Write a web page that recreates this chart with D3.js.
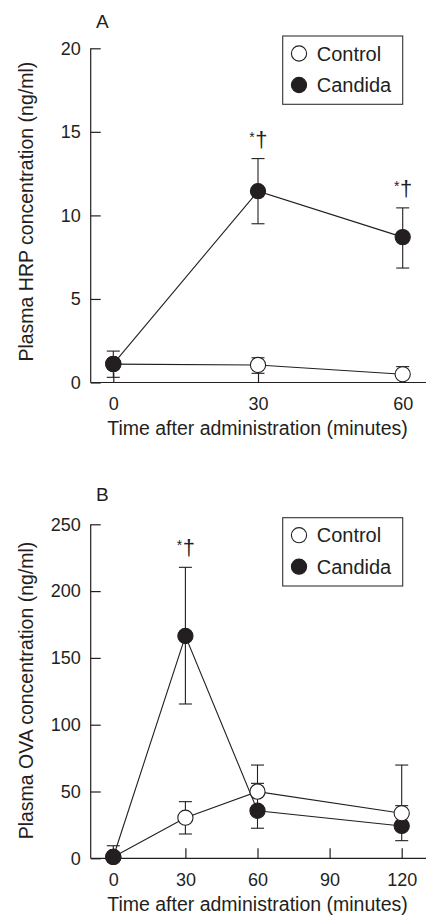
<!DOCTYPE html>
<html>
<head>
<meta charset="utf-8">
<script src="https://cdn.jsdelivr.net/npm/d3@7"></script>
<style>
  body { margin: 0; background: #fff; }
  svg { display: block; font-family: "Liberation Sans", Arial, sans-serif; }
</style>
</head>
<body>
<div id="chart"></div>
<script>
// Series names (legend order)
const seriesNames = ["Control", "Candida"];

// Panel A: plasma HRP (ng/ml)
const hrpTimes = [0, 30, 60];
const hrpControl = [1.1, 1.05, 0.49];
const hrpControlLow = [null, 0.55, null];
const hrpControlHigh = [null, 1.48, 0.95];
const hrpCandida = [1.12, 11.45, 8.7];
const hrpCandidaLow = [0.31, 9.5, 6.85];
const hrpCandidaHigh = [1.88, 13.4, 10.45];
const hrpStars = [false, true, true];

// Panel B: plasma OVA (ng/ml)
const ovaTimes = [0, 30, 60, 120];
const ovaTicks = [0, 30, 60, 90, 120];
const ovaControl = [1, 30.4, 49.9, 33.7];
const ovaControlLow = [null, 18.2, null, null];
const ovaControlHigh = [null, 42.4, 69.8, 69.8];
const ovaCandida = [1, 166.4, 35.6, 24.2];
const ovaCandidaLow = [null, 115.5, 22.5, 13.2];
const ovaCandidaHigh = [9.4, 217.8, 56.1, 39.4];
const ovaStars = [false, true, false, false];

const ink = "#231f20";

const svg = d3.select("#chart").append("svg")
    .attr("width", 426)
    .attr("height", 917);

function drawPanel(p) {
    const g = svg.append("g");

    const x = d3.scaleLinear().domain(p.xDomain).range([113.3, p.xRight]);
    const y = d3.scaleLinear().domain(p.yDomain).range([p.yBottom, p.yTop]);

    // axes drawn as an L, x axis runs on to the right edge
    g.append("line")
        .attr("x1", 90.7).attr("x2", 90.7)
        .attr("y1", y(p.yDomain[1])).attr("y2", y(0))
        .attr("stroke", ink).attr("stroke-width", 1.2);
    g.append("line")
        .attr("x1", 90.7).attr("x2", 426)
        .attr("y1", y(0)).attr("y2", y(0))
        .attr("stroke", ink).attr("stroke-width", 1.2);

    // inward ticks
    const yAxis = g.append("g")
        .attr("transform", "translate(90.7,0)")
        .call(d3.axisLeft(y).tickValues(p.yTicks).tickSize(-10).tickPadding(10));
    const xAxis = g.append("g")
        .attr("transform", `translate(0,${y(0)})`)
        .call(d3.axisBottom(x).tickValues(p.xTicks).tickSize(-10).tickPadding(15));
    [yAxis, xAxis].forEach(a => {
        a.select(".domain").remove();
        a.selectAll(".tick line").attr("stroke", ink).attr("stroke-width", 1.2);
        a.selectAll(".tick text")
            .attr("fill", ink)
            .style("font-family", "Liberation Sans, Arial, sans-serif")
            .style("font-size", "18px");
    });

    // axis titles and panel letter
    g.append("text")
        .attr("x", 257.5).attr("y", p.xTitleY)
        .attr("text-anchor", "middle")
        .attr("fill", ink).style("font-size", "19.5px")
        .text("Time after administration (minutes)");
    g.append("text")
        .attr("transform", `translate(33,${p.yTitleC}) rotate(-90)`)
        .attr("text-anchor", "middle")
        .attr("fill", ink).style("font-size", "19.5px")
        .text(p.yTitle);
    g.append("text")
        .attr("x", 96).attr("y", p.letterY)
        .attr("fill", ink).style("font-size", "19px")
        .text(p.letter);

    const series = [
        { name: "Control", vals: p.control, low: p.controlLow, high: p.controlHigh, fill: "#fff" },
        { name: "Candida", vals: p.candida, low: p.candidaLow, high: p.candidaHigh, fill: ink }
    ];

    const line = d3.line().x(d => x(d.t)).y(d => y(d.v));

    series.forEach(s => {
        const pts = p.times.map((t, i) => ({ t, v: s.vals[i] }));
        g.append("path")
            .datum(pts)
            .attr("d", line)
            .attr("fill", "none")
            .attr("stroke", ink)
            .attr("stroke-width", 1.1);
    });

    // error bars
    series.forEach(s => {
        p.times.forEach((t, i) => {
            [s.low[i], s.high[i]].forEach(e => {
                if (e == null) return;
                g.append("line")
                    .attr("x1", x(t)).attr("x2", x(t))
                    .attr("y1", y(s.vals[i])).attr("y2", y(e))
                    .attr("stroke", ink).attr("stroke-width", 1.1);
                g.append("line")
                    .attr("x1", x(t) - 6.5).attr("x2", x(t) + 6.5)
                    .attr("y1", y(e)).attr("y2", y(e))
                    .attr("stroke", ink).attr("stroke-width", 1.1);
            });
        });
    });

    // markers: control sits on top, except at baseline where Candida covers it
    const marks = [];
    series.forEach((s, si) => {
        p.times.forEach((t, i) => marks.push({ t, v: s.vals[i], fill: s.fill, z: (si === 0) !== (t === 0) ? 1 : 0 }));
    });
    marks.sort((a, b) => a.z - b.z);
    g.selectAll(".mark")
        .data(marks)
        .enter()
        .append("circle")
        .attr("cx", d => x(d.t))
        .attr("cy", d => y(d.v))
        .attr("r", 7.6)
        .attr("fill", d => d.fill)
        .attr("stroke", ink)
        .attr("stroke-width", 1.1);

    // significance marks above the upper error caps
    p.times.forEach((t, i) => {
        if (!p.stars[i]) return;
        const capY = y(p.candidaHigh[i]);
        g.append("text")
            .attr("x", x(t) + 3.4).attr("y", capY - 12)
            .attr("text-anchor", "middle")
            .attr("fill", ink).style("font-size", "22px")
            .text("†");
        g.append("text")
            .attr("x", x(t) - 6).attr("y", capY - 17)
            .attr("text-anchor", "middle")
            .attr("fill", ink).style("font-size", "14px")
            .text("*");
    });

    // legend
    const lg = g.append("g").attr("transform", `translate(282.7,${p.legendTop})`);
    lg.append("rect")
        .attr("width", 120).attr("height", 68.3)
        .attr("fill", "#fff")
        .attr("stroke", "#333").attr("stroke-width", 1.1);
    seriesNames.forEach((name, i) => {
        const cy = 17.5 + i * 31.5;
        lg.append("circle")
            .attr("cx", 16.3).attr("cy", cy).attr("r", 7.6)
            .attr("fill", series[i].fill)
            .attr("stroke", ink).attr("stroke-width", 1.1);
        lg.append("text")
            .attr("x", 34).attr("y", cy + 7)
            .attr("fill", ink).style("font-size", "20px")
            .text(name);
    });
}

drawPanel({
    letter: "A", letterY: 28.3,
    times: hrpTimes, xDomain: [0, 60], xRight: 402.7, xTicks: hrpTimes,
    yDomain: [0, 20], yTop: 48.3, yBottom: 382.5, yTicks: [0, 5, 10, 15, 20],
    control: hrpControl, controlLow: hrpControlLow, controlHigh: hrpControlHigh,
    candida: hrpCandida, candidaLow: hrpCandidaLow, candidaHigh: hrpCandidaHigh,
    stars: hrpStars,
    yTitle: "Plasma HRP concentration (ng/ml)", yTitleC: 211.7, xTitleY: 435,
    legendTop: 36
});

drawPanel({
    letter: "B", letterY: 501,
    times: ovaTimes, xDomain: [0, 120], xRight: 401.7, xTicks: ovaTicks,
    yDomain: [0, 250], yTop: 524.3, yBottom: 858.3, yTicks: [0, 50, 100, 150, 200, 250],
    control: ovaControl, controlLow: ovaControlLow, controlHigh: ovaControlHigh,
    candida: ovaCandida, candidaLow: ovaCandidaLow, candidaHigh: ovaCandidaHigh,
    stars: ovaStars,
    yTitle: "Plasma OVA concentration (ng/ml)", yTitleC: 690.5, xTitleY: 911.3,
    legendTop: 517.7
});
</script>
</body>
</html>
